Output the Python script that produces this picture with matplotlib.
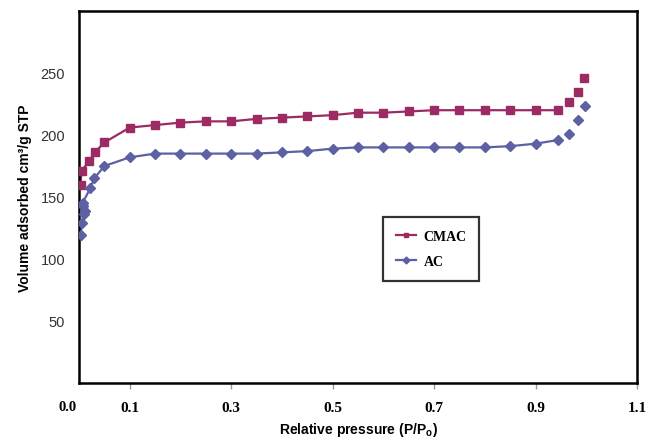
import matplotlib
matplotlib.use("Agg")
import matplotlib.pyplot as plt
import numpy as np

# ---- data ----
cmac_x = [0.003, 0.005, 0.020, 0.031, 0.050, 0.10, 0.15, 0.20, 0.25, 0.30, 0.35, 0.40,
          0.45, 0.50, 0.55, 0.60, 0.65, 0.70, 0.75, 0.80, 0.85, 0.90, 0.945, 0.965, 0.983, 0.996]
cmac_y = [160, 171, 179, 186, 194, 206, 208, 210, 211, 211, 213, 214,
          215, 216, 218, 218, 219, 220, 220, 220, 220, 220, 220, 227, 235, 246]

ac_x = [0.004, 0.005, 0.010, 0.012, 0.008, 0.007, 0.022, 0.030, 0.050, 0.10, 0.15, 0.20,
        0.25, 0.30, 0.35, 0.40, 0.45, 0.50, 0.55, 0.60, 0.65, 0.70, 0.75, 0.80, 0.85,
        0.90, 0.945, 0.965, 0.983, 0.997]
ac_y = [119, 129, 136, 139, 143, 145, 157, 165, 175, 182, 185, 185,
        185, 185, 185, 186, 187, 189, 190, 190, 190, 190, 190, 190, 191,
        193, 196, 201, 212, 223]

x_ticks = [0.1, 0.3, 0.5, 0.7, 0.9, 1.1]
x_tick_labels = ["0.1", "0.3", "0.5", "0.7", "0.9", "1.1"]
y_ticks = [50, 100, 150, 200, 250]
series_names = ["CMAC", "AC"]

# ---- style ----
c_cmac = "#9B2B62"
c_ac = "#5D60A3"
plt.rcParams["mathtext.fontset"] = "custom"
plt.rcParams["mathtext.rm"] = "Liberation Sans:bold"
plt.rcParams["mathtext.bf"] = "Liberation Sans:bold"

fig = plt.figure(figsize=(6.49, 4.39), dpi=100)
ax = fig.add_axes([79/649, 1-384/439, (637-79)/649, (384-12)/439])

def draw(xs, ys, color, marker, ms, label):
    xs = np.asarray(xs); ys = np.asarray(ys)
    m = xs <= 0.95
    ax.plot(xs[m], ys[m], color=color, lw=1.6, zorder=2)
    ax.plot(xs, ys, ls="none", marker=marker, ms=ms, color=color,
            markeredgecolor=color, zorder=3)
    ax.plot([], [], color=color, lw=1.6, marker=marker, ms=3.5, label=label)

draw(cmac_x, cmac_y, c_cmac, "s", 6.3, series_names[0])
draw(ac_x, ac_y, c_ac, "D", 4.8, series_names[1])

ax.set_xlim(0, 1.1)
ax.set_ylim(0, 300)
ax.set_xticks(x_ticks)
ax.set_xticklabels(x_tick_labels, fontfamily="Liberation Serif", fontweight="bold", fontsize=11)
ax.set_yticks(y_ticks)
ax.set_yticklabels([str(v) for v in y_ticks], fontfamily="Liberation Sans", fontsize=10.5,
                   color="#333333")
ax.tick_params(axis="x", direction="out", length=4, width=1, color="#999999", pad=9)
ax.tick_params(axis="y", length=0, pad=10)
ax.text(-0.022, -0.046, "0.0", transform=ax.get_xaxis_transform(), ha="center", va="top",
        fontfamily="Liberation Serif", fontweight="bold", fontsize=10.5)

for s in ax.spines.values():
    s.set_linewidth(1.8)
    s.set_color("black")

ax.set_xlabel("Relative pressure (P/P$_\\mathrm{o}$)", fontfamily="Liberation Sans",
              fontweight="bold", fontsize=10, labelpad=4)
ax.set_ylabel("Volume adsorbed cm\u00b3/g STP", fontfamily="Liberation Sans",
              fontweight="bold", fontsize=10, labelpad=6)

leg = ax.legend(loc="upper left", bbox_to_anchor=(0.545, 0.446), frameon=True, fancybox=False,
                prop={"family": "Liberation Serif", "weight": "bold", "size": 10},
                handlelength=1.5, handletextpad=0.5, borderpad=0.9, labelspacing=0.9,
                borderaxespad=0)
leg.get_frame().set_edgecolor("black")
leg.get_frame().set_linewidth(1.6)

fig.savefig("out.png", dpi=100)
